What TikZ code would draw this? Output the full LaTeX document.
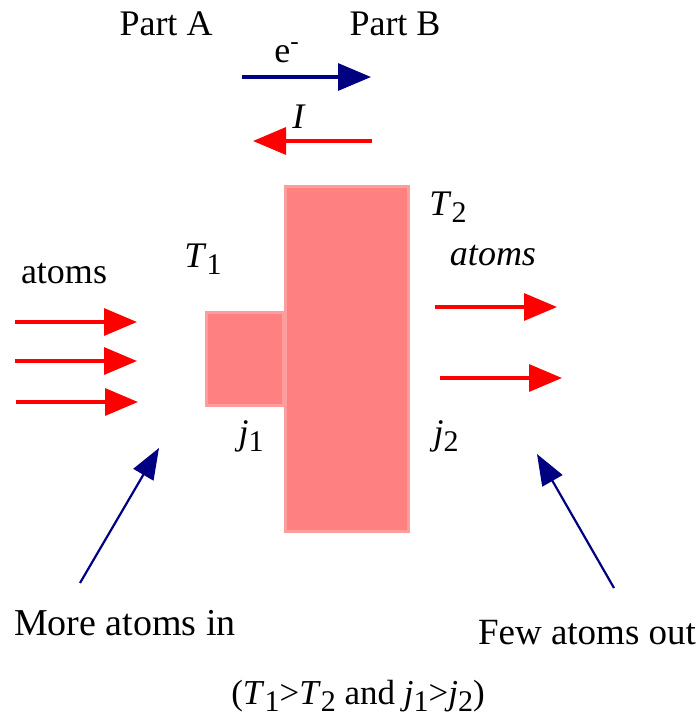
\documentclass[tikz,border=0pt]{standalone}
\usepackage{fontspec}
\setmainfont{Liberation Serif}
\usetikzlibrary{arrows.meta}
\definecolor{blockred}{HTML}{FF8080}
\definecolor{blockedge}{HTML}{FF9C9C}
\definecolor{navyblue}{HTML}{000080}
\newcommand{\isub}[2]{\textit{#1}\raisebox{-0.22em}{\fontsize{15}{15}\selectfont #2}}

\begin{document}
\begin{tikzpicture}[x=0.5pt, y=-0.5pt,
        lbl/.style={font=\fontsize{18}{20}\selectfont, anchor=base, inner sep=0pt},
        flow/.style={draw=red, line width=1.65pt, -{Triangle[length=16.5pt, width=13.5pt]}},
        elflow/.style={draw=navyblue, line width=1.65pt, -{Triangle[length=16.5pt, width=13.5pt]}},
        pointer/.style={draw=navyblue, line width=1.1pt, -{Triangle[length=15.5pt, width=11.5pt]}},
        block/.style={rectangle, draw=blockedge, fill=blockred, line width=1.3pt, inner sep=0pt}
        ]

        \useasboundingbox (0,0) rectangle (699,719);

        %% Blocks
        \node[block, minimum width=38.3pt, minimum height=46.7pt] (smallblock) at (245,359) {};
        \node[block, minimum width=61.7pt, minimum height=172.7pt] (bigblock) at (347,359) {};

        %% Top labels
        \node[lbl] (partA) at (166,35) {Part A};
        \node[lbl] (partB) at (395,35) {Part B};
        \node[lbl] (elec) at (287,62) {e\textsuperscript{-}};
        \node[lbl] (curr) at (299,128) {\textit{I}};

        %% Electron and current arrows
        \coordinate (eTail) at (242,77);
        \coordinate (eTip)  at (371,77);
        \coordinate (iTail) at (372,141);
        \coordinate (iTip)  at (253,141);
        \draw[elflow] (eTail) -- (eTip);
        \draw[flow] (iTail) -- (iTip);

        %% Block labels
        \node[lbl] (T1) at (203,267) {\isub{T}{1}};
        \node[lbl] (j1) at (251,444) {\isub{j}{1}};
        \node[lbl] (T2) at (448,215) {\isub{T}{2}};
        \node[lbl] (j2) at (446,444) {\isub{j}{2}};

        %% Incoming atoms
        \node[lbl] (atomsin) at (64,283) {atoms};
        \coordinate (inA1) at (15,322);  \coordinate (inB1) at (137,322);
        \coordinate (inA2) at (15,361);  \coordinate (inB2) at (137,361);
        \coordinate (inA3) at (16,402);  \coordinate (inB3) at (138,402);
        \draw[flow] (inA1) -- (inB1);
        \draw[flow] (inA2) -- (inB2);
        \draw[flow] (inA3) -- (inB3);

        %% Outgoing atoms
        \node[lbl] (atomsout) at (493,265) {\textit{atoms}};
        \coordinate (outA1) at (435,307); \coordinate (outB1) at (557,307);
        \coordinate (outA2) at (440,378); \coordinate (outB2) at (562,378);
        \draw[flow] (outA1) -- (outB1);
        \draw[flow] (outA2) -- (outB2);

        %% Pointers with captions
        \node[lbl, font=\fontsize{19}{21}\selectfont] (morein) at (125,635) {More atoms in};
        \node[lbl, font=\fontsize{18.5}{20}\selectfont] (fewout) at (587,644) {Few atoms out};
        \coordinate (leftTail)  at (80,583);
        \coordinate (leftTip)   at (159,448);
        \coordinate (rightTail) at (614,588);
        \coordinate (rightTip)  at (537,454);
        \draw[pointer] (leftTail) -- (leftTip);
        \draw[pointer] (rightTail) -- (rightTip);

        %% Condition
        \node[lbl, font=\fontsize{17.5}{19}\selectfont] (cond) at (358,704) {(\isub{T}{1}>\isub{T}{2} and \isub{j}{1}>\isub{j}{2})};

    \end{tikzpicture}
\end{document}
